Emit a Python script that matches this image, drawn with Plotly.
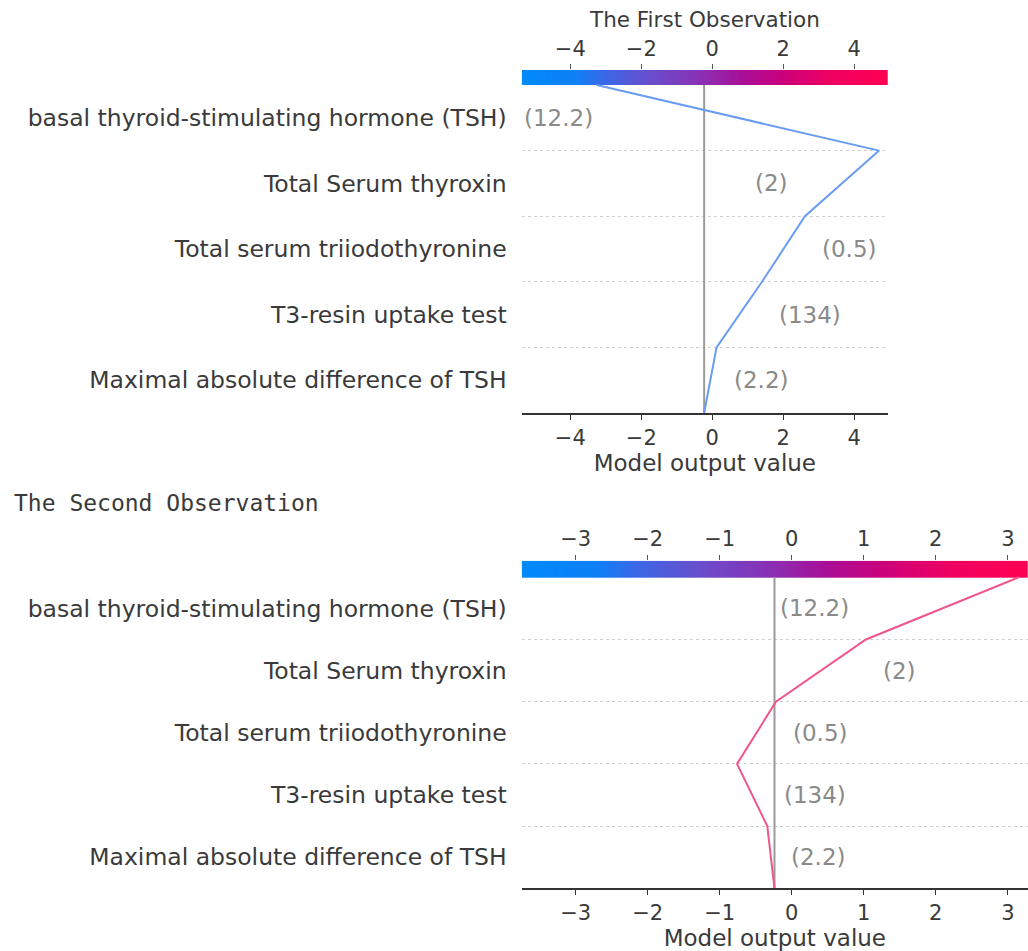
import numpy as np
import plotly.graph_objects as go

# ---------------- data ----------------
# features listed bottom -> top (SHAP decision plot order)
features = [
    "Maximal absolute difference of TSH",
    "T3-resin uptake test",
    "Total serum triiodothyronine",
    "Total Serum thyroxin",
    "basal thyroid-stimulating hormone (TSH)",
]
feature_values = ["2.2", "134", "0.5", "2", "12.2"]

obs1_base = -0.23
obs1_shap = [0.35, 1.28, 1.21, 2.09, -7.96]
obs1_xlim = [-5.37, 4.95]
obs1_ticks = [-4, -2, 0, 2, 4]

obs2_base = -0.24
obs2_shap = [-0.10, -0.42, 0.54, 1.25, 2.12]
obs2_xlim = [-3.75, 3.28]
obs2_ticks = [-3, -2, -1, 0, 1, 2, 3]

title1 = "The First Observation"
title2 = "The Second Observation"
xlabel = "Model output value"

# ---------------- styling ----------------
W, H = 1028, 951
FONT = "DejaVu Sans"
TXT = "#3a3a3a"
VAL = "#8a8a8a"
line1_color = "#6a9cf2"
line2_color = "#f0558c"
cscale = [
    [0.00, "rgb(0,138,250)"],
    [0.15, "rgb(15,128,246)"],
    [0.22, "rgb(55,105,232)"],
    [0.35, "rgb(105,78,205)"],
    [0.50, "rgb(140,45,178)"],
    [0.60, "rgb(168,15,152)"],
    [0.72, "rgb(205,0,122)"],
    [0.85, "rgb(240,0,96)"],
    [1.00, "rgb(255,0,82)"],
]


def px_x(p):
    return p / W


def px_y(p):
    return 1 - p / H


panels = [
    dict(base=obs1_base, shap=obs1_shap, xlim=obs1_xlim, ticks=obs1_ticks,
         color=line1_color, xdom=[521.7, 888.0], ytop=70.0, ycb=85.0, ybot=413.0,
         xa="x", ya="y", xa_top="x3"),
    dict(base=obs2_base, shap=obs2_shap, xlim=obs2_xlim, ticks=obs2_ticks,
         color=line2_color, xdom=[521.7, 1028.0], ytop=560.7, ycb=577.3, ybot=888.3,
         xa="x2", ya="y2", xa_top="x4"),
]

fig = go.Figure()
annotations = []
n = len(features)

for i, p in enumerate(panels):
    row_px = (p["ybot"] - p["ycb"]) / n
    cb_top = n - 0.5 + (p["ycb"] - p["ytop"]) / row_px
    p["yrange"] = [-0.5, cb_top]
    cum = np.concatenate([[p["base"]], p["base"] + np.cumsum(p["shap"])])
    ys = np.arange(n + 1) - 0.5

    # colour bar across the top
    edges = np.linspace(p["xlim"][0], p["xlim"][1], 257)
    mids = (edges[:-1] + edges[1:]) / 2
    fig.add_trace(go.Heatmap(
        z=[mids], x=edges, y=[n - 0.5, cb_top], colorscale=cscale,
        zmin=p["xlim"][0], zmax=p["xlim"][1], showscale=False,
        hoverinfo="skip", xaxis=p["xa"], yaxis=p["ya"]))

    # base value vertical line
    fig.add_trace(go.Scatter(
        x=[p["base"], p["base"]], y=[-0.5, n - 0.5], mode="lines",
        line=dict(color="#9a9a9a", width=2), hoverinfo="skip",
        showlegend=False, xaxis=p["xa"], yaxis=p["ya"]))

    # decision line
    fig.add_trace(go.Scatter(
        x=cum, y=ys, mode="lines", line=dict(color=p["color"], width=2),
        showlegend=False, xaxis=p["xa"], yaxis=p["ya"]))

    # feature value labels
    ppu = (p["xdom"][1] - p["xdom"][0]) / (p["xlim"][1] - p["xlim"][0])
    xref = p["xa"]
    yref = p["ya"]
    for k in range(n):
        lo, hi = min(cum[k], cum[k + 1]), max(cum[k], cum[k + 1])
        txt = "(" + feature_values[k] + ")"
        wpx = 13.5 * len(txt)
        if hi + (15 + wpx) / ppu <= p["xlim"][1]:
            ax, anc, sh = hi, "left", 15
        elif lo - (15 + wpx) / ppu >= p["xlim"][0]:
            ax, anc, sh = lo, "right", -15
        else:
            ax, anc, sh = p["xlim"][0], "left", 0
        annotations.append(dict(
            x=ax, y=k, xref=xref, yref=yref, text=txt, showarrow=False,
            xanchor=anc, xshift=sh, yanchor="middle",
            font=dict(family=FONT, size=23, color=VAL)))

# ---------------- layout ----------------
layout = dict(
    width=W, height=H, margin=dict(l=0, r=0, t=0, b=0),
    paper_bgcolor="white", plot_bgcolor="white", showlegend=False,
    font=dict(family=FONT, color=TXT),
)

axis_names = [("xaxis", "yaxis", "xaxis3"), ("xaxis2", "yaxis2", "xaxis4")]
for p, (xn, yn, xtn) in zip(panels, axis_names):
    xd = [px_x(p["xdom"][0]), min(1.0, px_x(p["xdom"][1]))]
    yd = [px_y(p["ybot"]), px_y(p["ytop"])]
    ticktext = [("\u2212" + str(-t)) if t < 0 else str(t) for t in p["ticks"]]
    layout[xn] = dict(
        domain=xd, anchor=p["ya"], range=p["xlim"], tickvals=p["ticks"],
        ticktext=ticktext,
        showgrid=False, zeroline=False, showline=True, linecolor="#333333",
        linewidth=1.6, ticks="outside", ticklen=5, tickcolor="#333333",
        tickfont=dict(family=FONT, size=21, color=TXT),
        title=dict(text=xlabel, font=dict(family=FONT, size=23, color=TXT), standoff=4),
    )
    layout[xtn] = dict(
        domain=xd, anchor=p["ya"], overlaying=p["xa"], side="top",
        range=p["xlim"], tickvals=p["ticks"], ticktext=ticktext,
        showgrid=False, zeroline=False, showline=False, ticks="outside",
        ticklen=5, tickcolor="#555555",
        tickfont=dict(family=FONT, size=21, color=TXT),
    )
    layout[yn] = dict(
        domain=yd, anchor=p["xa"], range=p["yrange"], tickvals=list(range(n)),
        ticktext=features, ticks="", showgrid=False, zeroline=False,
        showline=False, ticklabelstandoff=14,
        tickfont=dict(family=FONT, size=23.5, color=TXT),
        minor=dict(tickvals=[k + 0.5 for k in range(n - 1)], showgrid=True,
                   gridcolor="#d0d0d0", griddash="dot", gridwidth=1, ticks=""),
    )

annotations.append(dict(
    x=(px_x(panels[0]["xdom"][0]) + px_x(panels[0]["xdom"][1])) / 2, y=px_y(20),
    xref="paper", yref="paper", text=title1, showarrow=False,
    xanchor="center", yanchor="middle",
    font=dict(family=FONT, size=21.5, color=TXT)))
annotations.append(dict(
    x=px_x(12), y=px_y(503), xref="paper", yref="paper", text=title2,
    showarrow=False, xanchor="left", yanchor="middle",
    font=dict(family="DejaVu Sans Mono", size=23, color=TXT)))

layout["annotations"] = annotations
fig.update_layout(**layout)
fig.add_trace(go.Scatter(x=[None], y=[None], xaxis="x3", yaxis="y", showlegend=False))
fig.add_trace(go.Scatter(x=[None], y=[None], xaxis="x4", yaxis="y2", showlegend=False))

fig.write_html("out.html")
